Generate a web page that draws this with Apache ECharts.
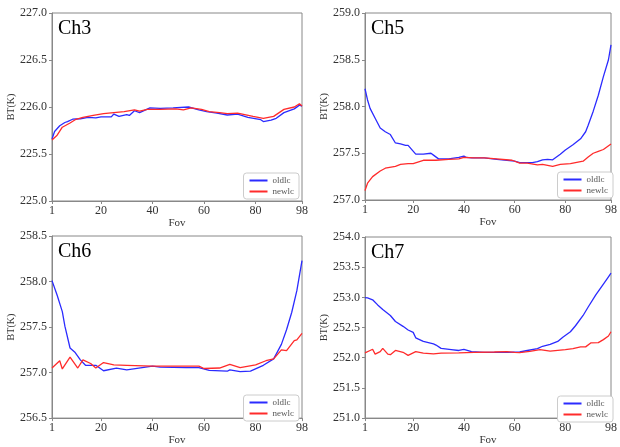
<!DOCTYPE html>
<html>
<head>
<meta charset="utf-8">
<script src="https://cdn.jsdelivr.net/npm/echarts@6/dist/echarts.min.js"></script>
<style>
  html, body { margin: 0; padding: 0; background: #fff; }
  #chart { width: 620px; height: 447px; }
</style>
</head>
<body>
<div id="chart"></div>
<script>
// x ticks shared by all panels
const fovTicks = [1, 20, 40, 60, 80, 98]

// Ch3
const ch3OldFov = [1, 2, 4, 6, 7, 9, 12, 15, 18, 20, 24, 25, 27, 30, 31, 33, 35, 39, 43, 48, 54, 58, 61, 65, 69, 73, 77, 82, 83, 86, 88, 91, 95, 97, 98]
const ch3Old = [225.66, 225.74, 225.80, 225.835, 225.845, 225.87, 225.875, 225.89, 225.885, 225.895, 225.895, 225.925, 225.90, 225.92, 225.91, 225.96, 225.94, 225.99, 225.985, 225.99, 226.0, 225.97, 225.95, 225.935, 225.915, 225.925, 225.89, 225.865, 225.845, 225.86, 225.88, 225.94, 225.98, 226.02, 226.01]
const ch3NewFov = [1, 3, 5, 8, 10, 13, 17, 21, 25, 29, 33, 35, 38, 43, 49, 52, 55, 59, 62, 66, 69, 73, 79, 83, 87, 91, 95, 97, 98]
const ch3New = [225.65, 225.70, 225.785, 225.83, 225.865, 225.89, 225.91, 225.93, 225.94, 225.95, 225.97, 225.955, 225.975, 225.975, 225.98, 225.97, 225.99, 225.975, 225.95, 225.94, 225.93, 225.935, 225.90, 225.88, 225.90, 225.975, 226.0, 226.035, 226.01]

// Ch5
const ch5OldFov = [1, 2, 3, 5, 7, 9, 11, 13, 15, 17, 18, 21, 24, 27, 28, 30, 34, 38, 40, 41, 43, 48, 53, 60, 62, 67, 69, 71, 73, 75, 78, 80, 83, 86, 88, 89, 91, 93, 95, 97, 98]
const ch5Old = [258.19, 258.07, 257.98, 257.875, 257.77, 257.73, 257.70, 257.61, 257.60, 257.585, 257.585, 257.49, 257.49, 257.50, 257.48, 257.44, 257.44, 257.455, 257.47, 257.455, 257.45, 257.45, 257.435, 257.415, 257.40, 257.40, 257.41, 257.43, 257.435, 257.43, 257.49, 257.535, 257.59, 257.655, 257.73, 257.80, 257.95, 258.12, 258.32, 258.5, 258.66]
const ch5NewFov = [1, 2, 4, 7, 9, 13, 15, 18, 20, 24, 29, 34, 38, 40, 44, 48, 53, 59, 62, 65, 69, 71, 73, 75, 78, 82, 84, 87, 89, 91, 93, 95, 98]
const ch5New = [257.10, 257.18, 257.25, 257.31, 257.34, 257.36, 257.38, 257.39, 257.39, 257.425, 257.425, 257.435, 257.44, 257.455, 257.45, 257.45, 257.44, 257.425, 257.395, 257.395, 257.375, 257.38, 257.37, 257.36, 257.38, 257.39, 257.40, 257.415, 257.46, 257.50, 257.52, 257.54, 257.60]

// Ch6
const ch6OldFov = [1, 3, 5, 6, 8, 10, 12, 14, 18, 21, 26, 30, 40, 43, 53, 58, 62, 69, 70, 74, 78, 83, 87, 90, 92, 94, 96, 98]
const ch6Old = [258.01, 257.85, 257.67, 257.51, 257.27, 257.22, 257.14, 257.08, 257.08, 257.02, 257.05, 257.03, 257.07, 257.06, 257.055, 257.055, 257.025, 257.015, 257.03, 257.01, 257.015, 257.08, 257.15, 257.31, 257.47, 257.66, 257.90, 258.23]
const ch6NewFov = [1, 4, 5, 8, 11, 13, 16, 18, 21, 25, 30, 40, 50, 58, 60, 66, 70, 74, 80, 84, 87, 90, 92, 95, 96, 98]
const ch6New = [257.05, 257.13, 257.04, 257.17, 257.05, 257.14, 257.10, 257.05, 257.11, 257.085, 257.08, 257.07, 257.07, 257.07, 257.045, 257.05, 257.09, 257.055, 257.085, 257.13, 257.15, 257.25, 257.24, 257.35, 257.36, 257.43]

// Ch7
const ch7OldFov = [1, 2, 4, 6, 8, 11, 13, 16, 18, 20, 21, 24, 28, 29, 31, 35, 38, 40, 43, 48, 53, 57, 62, 65, 69, 71, 74, 77, 79, 82, 84, 87, 89, 92, 95, 97, 98]
const ch7Old = [252.995, 252.99, 252.96, 252.875, 252.80, 252.70, 252.60, 252.52, 252.46, 252.42, 252.33, 252.27, 252.23, 252.21, 252.155, 252.135, 252.12, 252.14, 252.10, 252.09, 252.09, 252.09, 252.095, 252.12, 252.15, 252.19, 252.22, 252.27, 252.34, 252.43, 252.53, 252.70, 252.84, 253.04, 253.22, 253.34, 253.40]
const ch7NewFov = [1, 3, 4, 5, 7, 8, 10, 11, 13, 16, 18, 21, 24, 28, 31, 38, 44, 52, 57, 60, 62, 66, 70, 74, 80, 83, 86, 88, 90, 93, 95, 97, 98]
const ch7New = [252.08, 252.12, 252.14, 252.06, 252.10, 252.155, 252.06, 252.05, 252.12, 252.09, 252.04, 252.10, 252.075, 252.065, 252.075, 252.08, 252.09, 252.095, 252.10, 252.09, 252.085, 252.105, 252.135, 252.11, 252.135, 252.15, 252.18, 252.18, 252.245, 252.25, 252.30, 252.36, 252.43]

const blue = '#2b2bff'
const red = '#ff2b2b'
const serif = '"Liberation Serif", "DejaVu Serif", serif'

const panels = [
  { name: 'Ch3', min: 225, max: 227, grid: { left: 52, top: 13, width: 250, height: 188 }, old: [ch3OldFov, ch3Old], nw: [ch3NewFov, ch3New] },
  { name: 'Ch5', min: 257, max: 259, grid: { left: 365, top: 13, width: 251, height: 187 }, old: [ch5OldFov, ch5Old], nw: [ch5NewFov, ch5New] },
  { name: 'Ch6', min: 256.5, max: 258.5, grid: { left: 52, top: 236, width: 250, height: 187 }, old: [ch6OldFov, ch6Old], nw: [ch6NewFov, ch6New] },
  { name: 'Ch7', min: 251, max: 254, grid: { left: 365, top: 237, width: 251, height: 187 }, old: [ch7OldFov, ch7Old], nw: [ch7NewFov, ch7New] },
]

function pairs(xs, ys) {
  return xs.map((x, i) => [x, ys[i]])
}

const grids = []
const xAxes = []
const yAxes = []
const titles = []
const legends = []
const series = []

panels.forEach((p, i) => {
  const g = p.grid
  grids.push(Object.assign({ show: true, borderColor: '#888', borderWidth: 1, backgroundColor: '#fff' }, g))
  xAxes.push({
    type: 'value',
    gridIndex: i,
    min: 1,
    max: 98,
    name: 'Fov',
    nameLocation: 'middle',
    nameGap: 12,
    nameTextStyle: { fontFamily: serif, fontSize: 11, color: '#333' },
    axisLine: { lineStyle: { color: '#888' } },
    axisTick: { length: 3, lineStyle: { color: '#888' }, customValues: fovTicks },
    axisLabel: { customValues: fovTicks, fontFamily: serif, fontSize: 12, color: '#333', margin: 4 },
    splitLine: { show: false },
  })
  yAxes.push({
    type: 'value',
    gridIndex: i,
    min: p.min,
    max: p.max,
    interval: 0.5,
    name: 'BT(K)',
    nameLocation: 'middle',
    nameGap: 26,
    nameTextStyle: { fontFamily: serif, fontSize: 10, color: '#333' },
    axisLine: { show: true, lineStyle: { color: '#888' } },
    axisTick: { show: true, length: 3, lineStyle: { color: '#888' } },
    axisLabel: { formatter: (v) => v.toFixed(1), fontFamily: serif, fontSize: 12, color: '#333', margin: 5 },
    splitLine: { show: false },
  })
  titles.push({
    text: p.name,
    left: g.left + 6,
    top: g.top + 6,
    padding: 0,
    textStyle: { fontFamily: serif, fontSize: 20, fontWeight: 'normal', color: '#000' },
  })
  legends.push({
    data: ['oldlc', 'newlc'],
    orient: 'vertical',
    right: 620 - (g.left + g.width) + 3,
    top: g.top + g.height - 28,
    icon: 'rect',
    itemWidth: 18,
    itemHeight: 2,
    itemGap: 2,
    padding: [3, 5, 3, 6],
    borderColor: '#ccc',
    borderWidth: 1,
    borderRadius: 3,
    backgroundColor: '#fff',
    textStyle: { fontFamily: serif, fontSize: 9, color: '#555' },
  })
  series.push({
    name: 'oldlc', type: 'line', xAxisIndex: i, yAxisIndex: i,
    data: pairs(p.old[0], p.old[1]), showSymbol: false, symbol: 'none',
    lineStyle: { color: blue, width: 1.3 }, itemStyle: { color: blue },
  })
  series.push({
    name: 'newlc', type: 'line', xAxisIndex: i, yAxisIndex: i,
    data: pairs(p.nw[0], p.nw[1]), showSymbol: false, symbol: 'none',
    lineStyle: { color: red, width: 1.3 }, itemStyle: { color: red },
  })
})

const chart = echarts.init(document.getElementById('chart'))
chart.setOption({
  animation: false,
  backgroundColor: '#fff',
  title: titles,
  legend: legends,
  grid: grids,
  xAxis: xAxes,
  yAxis: yAxes,
  series: series,
})
</script>
</body>
</html>
